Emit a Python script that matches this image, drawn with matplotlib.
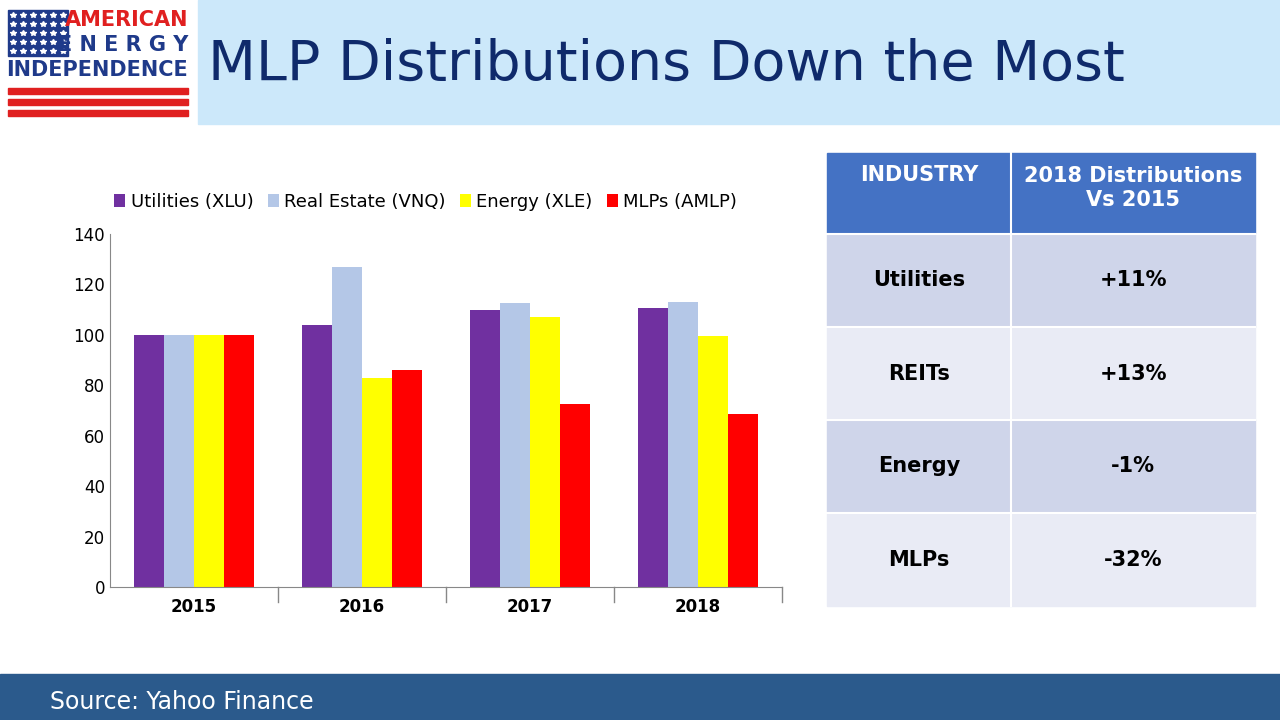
import numpy as np
import matplotlib
matplotlib.use("Agg")
import matplotlib.pyplot as plt
from matplotlib.patches import Rectangle

years = ["2015", "2016", "2017", "2018"]
series_names = ["Utilities (XLU)", "Real Estate (VNQ)", "Energy (XLE)", "MLPs (AMLP)"]
utilities = [100, 104, 110, 110.5]
real_estate = [100, 127, 112.5, 113]
energy = [100, 83, 107, 99.5]
mlps = [100, 86, 72.5, 68.5]
colors = ["#7030A0", "#B4C7E7", "#FFFF00", "#FF0000"]

table_header = ["INDUSTRY", "2018 Distributions\nVs 2015"]
table_industry = ["Utilities", "REITs", "Energy", "MLPs"]
table_change = ["+11%", "+13%", "-1%", "-32%"]

W, H = 1280, 720
fig = plt.figure(figsize=(12.8, 7.2), dpi=100)
fig.patch.set_facecolor("white")


def px(x, y, w, h):
    return [x / W, 1 - (y + h) / H, w / W, h / H]


# background layer
bg = fig.add_axes([0, 0, 1, 1])
bg.set_xlim(0, W)
bg.set_ylim(H, 0)
bg.axis("off")

# header band
bg.add_patch(Rectangle((198, 0), W - 198, 124, color="#CCE8FA"))
bg.text(208, 65, "MLP Distributions Down the Most", fontsize=40, color="#0F2A6B",
        va="center", ha="left", family="DejaVu Sans")

# logo: flag + text
bg.add_patch(Rectangle((8, 10), 60, 46, color="#1F3A8A"))
for i in range(5):
    for j in range(6):
        bg.plot(13 + j * 10, 15 + i * 9, marker="*", color="white", ms=4)
bg.text(188, 20, "AMERICAN", fontsize=15, weight="bold", color="#E02020", ha="right", va="center")
bg.text(188, 45, "E N E R G Y", fontsize=15, weight="bold", color="#1F3A8A", ha="right", va="center")
bg.text(188, 70, "INDEPENDENCE", fontsize=15, weight="bold", color="#1F3A8A", ha="right", va="center")
for k in range(3):
    bg.add_patch(Rectangle((8, 88 + k * 11), 180, 6, color="#E02020"))

# footer band
bg.add_patch(Rectangle((0, 674), W, 46, color="#2B5A8C"))
bg.text(50, 702, "Source: Yahoo Finance", fontsize=17, color="white", va="center")

# table
tx, tw1, tw2 = 827, 184, 244
bg.add_patch(Rectangle((tx, 153), tw1 + tw2, 80, color="#4472C4"))
bg.plot([tx + tw1, tx + tw1], [153, 233], color="white", lw=1.5)
bg.text(tx + tw1 / 2, 175, table_header[0], color="white", fontsize=15, weight="bold", ha="center", va="center")
bg.text(tx + tw1 + tw2 / 2, 188, table_header[1], color="white", fontsize=15, weight="bold",
        ha="center", va="center", linespacing=1.3)
row_h = 93
for i, (ind, ch) in enumerate(zip(table_industry, table_change)):
    y0 = 234 + i * row_h
    c = "#CFD5EA" if i % 2 == 0 else "#E9EBF5"
    bg.add_patch(Rectangle((tx, y0), tw1 + tw2, row_h, color=c))
    bg.plot([tx, tx + tw1 + tw2], [y0, y0], color="white", lw=1.5)
    bg.plot([tx + tw1, tx + tw1], [y0, y0 + row_h], color="white", lw=1.5)
    bg.text(tx + tw1 / 2, y0 + row_h / 2, ind, fontsize=15, weight="bold", ha="center", va="center")
    bg.text(tx + tw1 + tw2 / 2, y0 + row_h / 2, ch, fontsize=15, weight="bold", ha="center", va="center")

# bar chart
ax = fig.add_axes(px(110, 234, 672, 353))
x = np.arange(len(years))
bw = 0.18
for k, (vals, name) in enumerate(zip([utilities, real_estate, energy, mlps], series_names)):
    ax.bar(x + (k - 1.5) * bw, vals, bw, color=colors[k], label=name)
ax.set_xlim(-0.5, 3.5)
ax.set_ylim(0, 140)
ax.set_yticks(range(0, 141, 20))
ax.set_xticks(x)
ax.set_xticklabels(years, fontsize=12, weight="bold")
ax.tick_params(axis="y", labelsize=12, length=0)
ax.tick_params(axis="x", length=0, pad=8)
for s in ["top", "right"]:
    ax.spines[s].set_visible(False)
ax.spines["left"].set_color("#888888")
ax.spines["bottom"].set_color("#888888")
for b in [0.5, 1.5, 2.5, 3.5]:
    ax.plot([b, b], [0, -6], color="#888888", lw=1, clip_on=False)
ax.legend(loc="lower center", bbox_to_anchor=(0.47, 1.02), ncol=4, frameon=False,
          fontsize=13, handlelength=0.6, handletextpad=0.3, columnspacing=0.8)

fig.savefig("out.png", dpi=100)
